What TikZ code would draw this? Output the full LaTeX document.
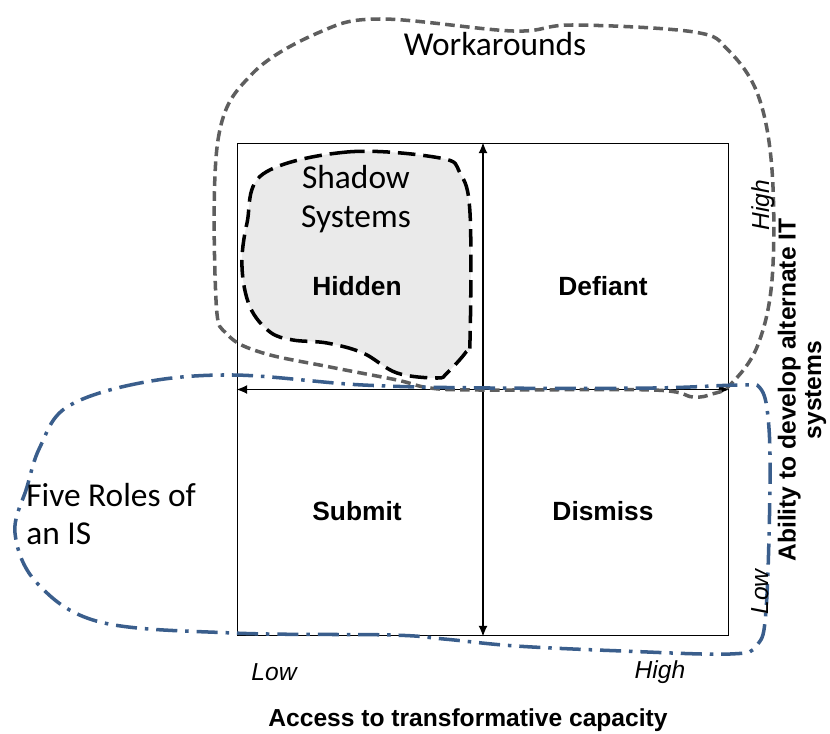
\documentclass[tikz,border=0pt]{standalone}
\usepackage{fontspec}
\setmainfont{Liberation Sans}
\newfontfamily\calibri{Carlito}
\usepackage{tikz}
\usetikzlibrary{positioning, arrows.meta}

\definecolor{roleblue}{HTML}{3A5E8C}
\definecolor{workgray}{HTML}{5E5E5E}
\definecolor{shadowfill}{HTML}{EAEAEA}

\begin{document}
\begin{tikzpicture}
[
    x=0.02cm, y=-0.02cm,
    % All coordinates are pixels of the figure:
    % origin at the top left corner, y runs downwards
]

%=================================== Start ===================================
\tikzstyle{quad}   = [font=\fontsize{15}{18}\selectfont\bfseries]
\tikzstyle{tick}   = [font=\fontsize{14}{17}\selectfont\itshape]
\tikzstyle{axis}   = [font=\fontsize{14}{14.5}\selectfont\bfseries, align=center]
\tikzstyle{cloud}  = [font=\fontsize{19}{22}\selectfont\calibri, inner sep=0pt]
\tikzstyle{work}   = [workgray, line width=2pt, dash pattern=on 5.5pt off 3pt]
\tikzstyle{roles}  = [roleblue, line width=2pt,
                      dash pattern=on 12pt off 4.5pt on 2pt off 4.5pt]
\tikzstyle{shadow} = [black, fill=shadowfill, line width=2pt,
                      dash pattern=on 10pt off 4.5pt]
\tikzstyle{grid}   = [draw, line width=0.6pt, minimum width=9.84cm,
                      minimum height=9.86cm, inner sep=0pt]
\tikzstyle{dbl}    = [{Latex[length=6pt,width=5pt]}-{Latex[length=6pt,width=5pt]},
                      line width=0.6pt]

\useasboundingbox (0,0) rectangle (830,733);

{
    % The 2x2 matrix
    \node[grid] (M) at (483,389.5) {};

    % Shadow systems (inside the hidden quadrant)
    \draw[shadow] plot[smooth cycle, tension=0.6] coordinates {
        (263,174) (347,152) (440,158) (460,173) (470,213) (470,340)
        (466,352) (447,373) (437,378) (397,373) (363,353) (327,343)
        (293,340) (270,332) (250,307) (242,267) (247,223)};

    % Axes
    \path (M.south) edge[dbl] (M.north);
    \path (M.west)  edge[dbl] (M.east);

    % Workarounds
    \draw[work] plot[smooth cycle, tension=0.6] coordinates {
        (216,300) (218,140) (252,74) (320,32) (381,19) (513,31) (573,25)
        (694,32) (728,50) (758,95) (772,170) (772,280) (757,347) (730,385)
        (712,394) (693,397) (653,390) (480,390) (430,388) (397,380)
        (330,367) (263,353) (228,335)};

    % Five roles of an IS
    \draw[roles] plot[smooth cycle, tension=0.6] coordinates {
        (233,375) (140,383) (67,407) (40,447) (27,487) (15,533) (37,583)
        (100,622) (233,633) (391,635) (444,639) (516,646) (623,651)
        (730,654) (757,645) (766,610) (770,483) (768,417) (760,388)
        (740,385) (653,388) (490,388) (363,385)};

    % Quadrant labels
    \foreach \name / \x / \y / \txt in {hid/357/286/Hidden, def/603/286/Defiant,
                                        sub/357/511/Submit, dis/603/511/Dismiss}
        \node[quad] (\name) at (\x,\y) {\txt};

    % Cloud labels
    \node[cloud] (work) at (495,44) {Workarounds};
    \node[cloud, align=center] (shadow) at (356,199) {Shadow\\Systems};
    \node[cloud, align=left, anchor=west] (roles) at (26,514) {Five Roles of\\an IS};

    % Axis labels
    \node[tick] (xlow)  at (274,672) {Low};
    \node[tick] (xhigh) at (660,672) {High};
    \node[tick, rotate=90] (ylow)  at (760,592) {Low};
    \node[tick, rotate=90] (yhigh) at (763,205) {High};
    \node[axis] (xlab) at (468,720) {Access to transformative capacity};
    \node[axis, rotate=90] (ylab) at (802,390) {Ability to develop alternate IT\\systems};
}
%==================================== END ====================================

\end{tikzpicture}
\end{document}
